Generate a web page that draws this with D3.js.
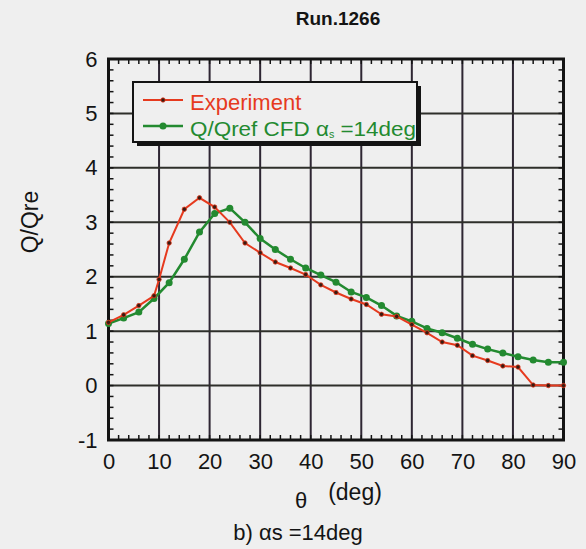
<!DOCTYPE html>
<html>
<head>
<meta charset="utf-8">
<script src="https://cdn.jsdelivr.net/npm/d3@7"></script>
<style>
  body { margin: 0; background: #efefef; }
  svg { display: block; font-family: "Liberation Sans", Arial, sans-serif; }
</style>
</head>
<body>
<svg id="canvas" width="586" height="549"></svg>
<script>
// experiment points (theta deg, Q/Qref)
let expTheta = [0, 3, 6, 9, 10, 12, 15, 18, 21, 24, 27, 30, 33, 36, 39, 42, 45, 48, 51, 54, 57, 60, 63, 66, 69, 72, 75, 78, 81, 84, 87, 90]
let expQ = [1.16, 1.3, 1.47, 1.65, 1.95, 2.62, 3.24, 3.45, 3.28, 3.0, 2.62, 2.44, 2.27, 2.16, 2.04, 1.85, 1.71, 1.59, 1.49, 1.31, 1.27, 1.12, 0.97, 0.8, 0.74, 0.55, 0.46, 0.36, 0.34, 0.01, 0.0, 0.0]

// CFD points
let cfdTheta = [0, 3, 6, 9, 12, 15, 18, 21, 24, 27, 30, 33, 36, 39, 42, 45, 48, 51, 54, 57, 60, 63, 66, 69, 72, 75, 78, 81, 84, 87, 90]
let cfdQ = [1.14, 1.24, 1.35, 1.6, 1.89, 2.32, 2.82, 3.16, 3.26, 3.0, 2.7, 2.5, 2.32, 2.16, 2.03, 1.9, 1.72, 1.62, 1.47, 1.28, 1.18, 1.05, 0.97, 0.87, 0.76, 0.67, 0.6, 0.53, 0.47, 0.43, 0.43]

let xTicks = [0, 10, 20, 30, 40, 50, 60, 70, 80, 90]
let yTicks = [-1, 0, 1, 2, 3, 4, 5, 6]

let canvas = d3.select("#canvas")

let plotLeft = 108.5, plotRight = 563.5, plotTop = 59, plotBottom = 440

let xScale = d3.scaleLinear().domain([0, 90]).range([plotLeft, plotRight])
let yScale = d3.scaleLinear().domain([-1, 6]).range([plotBottom, plotTop])

let red = "#e63a1e"
let green = "#238a30"
let ink = "#141414"

// grid
canvas.append("g")
    .selectAll("line")
    .data(xTicks.slice(1, -1))
    .enter()
    .append("line")
    .attr("x1", d => xScale(d)).attr("x2", d => xScale(d))
    .attr("y1", plotTop).attr("y2", plotBottom)
    .attr("stroke", "#2e2633")
    .attr("stroke-width", 2)

canvas.append("g")
    .selectAll("line")
    .data(yTicks.slice(1, -1))
    .enter()
    .append("line")
    .attr("x1", plotLeft).attr("x2", plotRight)
    .attr("y1", d => yScale(d)).attr("y2", d => yScale(d))
    .attr("stroke", "#2e2f2a")
    .attr("stroke-width", 2)

// inward minor ticks on all four sides
let xMinor = d3.range(0, 91, 2)
let yMinor = d3.range(-1, 6.01, 0.2)

let tickLen = 5
let ticks = canvas.append("g").attr("stroke", ink).attr("stroke-width", 1.5)
xMinor.forEach(t => {
    ticks.append("line").attr("x1", xScale(t)).attr("x2", xScale(t)).attr("y1", plotBottom).attr("y2", plotBottom - tickLen)
    ticks.append("line").attr("x1", xScale(t)).attr("x2", xScale(t)).attr("y1", plotTop).attr("y2", plotTop + tickLen)
})
yMinor.forEach(t => {
    ticks.append("line").attr("x1", plotLeft).attr("x2", plotLeft + tickLen).attr("y1", yScale(t)).attr("y2", yScale(t))
    ticks.append("line").attr("x1", plotRight).attr("x2", plotRight - tickLen).attr("y1", yScale(t)).attr("y2", yScale(t))
})

// frame
canvas.append("rect")
    .attr("x", plotLeft).attr("y", plotTop)
    .attr("width", plotRight - plotLeft).attr("height", plotBottom - plotTop)
    .attr("fill", "none")
    .attr("stroke", ink)
    .attr("stroke-width", 3)

// tick labels
let xAxis = d3.axisBottom(xScale).tickValues(xTicks).tickFormat(d => String(d)).tickSize(0).tickPadding(13)
canvas.append("g")
    .attr("transform", "translate(0," + plotBottom + ")")
    .call(xAxis)
    .call(g => g.select(".domain").remove())
    .selectAll("text")
    .style("font-size", "22px")
    .style("font-family", "Liberation Sans, Arial, sans-serif")
    .attr("fill", ink)

let yAxis = d3.axisLeft(yScale).tickValues(yTicks).tickFormat(d => String(d)).tickSize(0).tickPadding(11)
canvas.append("g")
    .attr("transform", "translate(" + plotLeft + ",0)")
    .call(yAxis)
    .call(g => g.select(".domain").remove())
    .selectAll("text")
    .style("font-size", "22px")
    .style("font-family", "Liberation Sans, Arial, sans-serif")
    .attr("fill", ink)

// series
let expData = expTheta.map((t, i) => [t, expQ[i]])
let cfdData = cfdTheta.map((t, i) => [t, cfdQ[i]])

let line = d3.line().x(d => xScale(d[0])).y(d => yScale(d[1]))

canvas.append("path")
    .datum(cfdData)
    .attr("d", line)
    .attr("fill", "none")
    .attr("stroke", green)
    .attr("stroke-width", 2.5)

canvas.append("g")
    .selectAll("circle")
    .data(cfdData)
    .enter()
    .append("circle")
    .attr("cx", d => xScale(d[0]))
    .attr("cy", d => yScale(d[1]))
    .attr("r", 3.5)
    .attr("fill", green)

canvas.append("path")
    .datum(expData)
    .attr("d", line)
    .attr("fill", "none")
    .attr("stroke", red)
    .attr("stroke-width", 2)

canvas.append("g")
    .selectAll("circle")
    .data(expData)
    .enter()
    .append("circle")
    .attr("cx", d => xScale(d[0]))
    .attr("cy", d => yScale(d[1]))
    .attr("r", 2.2)
    .attr("fill", "#3a1a10")
    .attr("stroke", red)
    .attr("stroke-width", 0.8)

// legend
let legend = canvas.append("g").attr("id", "legend")
legend.append("rect")
    .attr("x", 137).attr("y", 86).attr("width", 284).attr("height", 60)
    .attr("fill", ink)
legend.append("rect")
    .attr("x", 133).attr("y", 82).attr("width", 284).attr("height", 60)
    .attr("fill", "#efefef")
    .attr("stroke", ink)
    .attr("stroke-width", 2)

legend.append("line")
    .attr("x1", 143).attr("x2", 183).attr("y1", 100).attr("y2", 100)
    .attr("stroke", red).attr("stroke-width", 2)
legend.append("circle")
    .attr("cx", 163).attr("cy", 100).attr("r", 2.2)
    .attr("fill", "#3a1a10").attr("stroke", red).attr("stroke-width", 0.8)
legend.append("text")
    .attr("x", 190).attr("y", 110)
    .attr("fill", red)
    .style("font-size", "22px")
    .text("Experiment")

legend.append("line")
    .attr("x1", 143).attr("x2", 183).attr("y1", 126).attr("y2", 126)
    .attr("stroke", green).attr("stroke-width", 2.5)
legend.append("circle")
    .attr("cx", 163).attr("cy", 126).attr("r", 3.5)
    .attr("fill", green)
let lt = legend.append("text")
    .attr("x", 190).attr("y", 136)
    .attr("fill", green)
    .style("font-size", "21px")
    .attr("textLength", 226)
    .attr("lengthAdjust", "spacingAndGlyphs")
lt.append("tspan").text("Q/Qref CFD ")
lt.append("tspan").text("α")
lt.append("tspan").attr("dy", 2).style("font-size", "10px").text("s")
lt.append("tspan").attr("dy", -2).text("  =14deg")

// titles
canvas.append("text")
    .attr("x", 338).attr("y", 25)
    .attr("text-anchor", "middle")
    .style("font-size", "19px")
    .style("font-weight", "bold")
    .attr("fill", ink)
    .text("Run.1266")

canvas.append("text")
    .attr("transform", "translate(38,222) rotate(-90)")
    .attr("text-anchor", "middle")
    .style("font-size", "23px")
    .attr("fill", ink)
    .text("Q/Qre")

canvas.append("text")
    .attr("x", 301).attr("y", 508)
    .attr("text-anchor", "middle")
    .style("font-size", "22px")
    .attr("fill", ink)
    .text("θ")
canvas.append("text")
    .attr("x", 355).attr("y", 500)
    .attr("text-anchor", "middle")
    .style("font-size", "23px")
    .attr("fill", ink)
    .text("(deg)")

canvas.append("text")
    .attr("x", 298).attr("y", 540)
    .attr("text-anchor", "middle")
    .style("font-size", "22px")
    .attr("fill", ink)
    .text("b) αs =14deg")
</script>
</body>
</html>
